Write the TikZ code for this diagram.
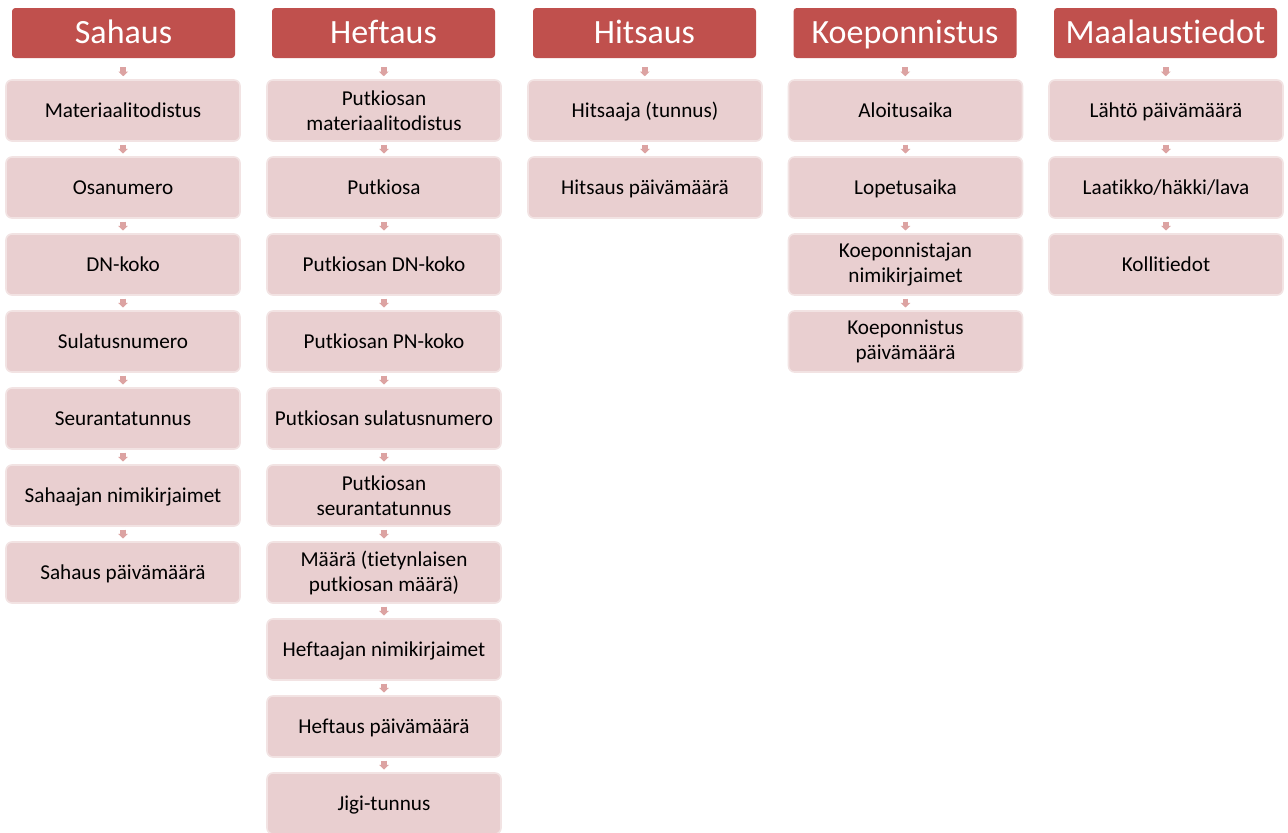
\documentclass[tikz,border=0pt]{standalone}
\usepackage{fontspec}
\setmainfont{Carlito}[Ligatures={NoCommon}]
\usetikzlibrary{arrows.meta,calc}
\definecolor{hdr}{HTML}{C0504D}
\definecolor{cell}{HTML}{E9CFD0}
\definecolor{cellline}{HTML}{F2E3E3}
\definecolor{arr}{HTML}{DCA3A2}
\tikzset{
  hdrbox/.style={fill=hdr, rounded corners=2.5pt, minimum width=167.25pt, minimum height=37.5pt,
    text=white, font=\fontsize{25.5}{30}\selectfont, inner sep=0pt, text height=19.5pt, text depth=3.1pt},
  cellboxtwo/.style={fill=cell, draw=cellline, line width=1.2pt, rounded corners=4.5pt,
    minimum width=175.5pt, minimum height=45.75pt, font=\fontsize{15.9}{18.8}\selectfont,
    align=center, inner sep=0pt},
  cellbox/.style={cellboxtwo, text height=12.3pt, text depth=2.06pt},
  conn/.style={draw=arr, line width=4.3pt, -{Triangle[width=7pt,length=3.4pt]}}
}
\newcommand\linkdown[2]{\draw[conn] ($(#1.south)!0.5!(#2.north)+(0,-4.5)$) -- ++(0,9);}
\newcommand\linkhead[2]{\draw[conn] ($(#1.south)!0.5!(#2.north)+(0,-1.5)$) -- ++(0,9);}
\begin{document}
\begin{tikzpicture}[x=0.75pt,y=-0.75pt]
\useasboundingbox (0,0) rectangle (1288,832);
% Column 1: Sahaus
\node[hdrbox] (sh) at (123.5,33) {Sahaus};
\node[cellbox] (s1) at (123,110.5) {Materiaalitodistus};
\node[cellbox] (s2) at (123,187.5) {Osanumero};
\node[cellbox] (s3) at (123,264.5) {DN-koko};
\node[cellbox] (s4) at (123,341.5) {Sulatusnumero};
\node[cellbox] (s5) at (123,418.5) {Seurantatunnus};
\node[cellbox] (s6) at (123,495.5) {Sahaajan nimikirjaimet};
\node[cellbox] (s7) at (123,572.5) {Sahaus päivämäärä};
\linkhead{sh}{s1}
\linkdown{s1}{s2}\linkdown{s2}{s3}\linkdown{s3}{s4}\linkdown{s4}{s5}\linkdown{s5}{s6}\linkdown{s6}{s7}
% Column 2: Heftaus
\node[hdrbox] (hh) at (383.5,33) {Heftaus};
\node[cellboxtwo] (h1) at (384,110.5) {Putkiosan\\materiaalitodistus};
\node[cellbox] (h2) at (384,187.5) {Putkiosa};
\node[cellbox] (h3) at (384,264.5) {Putkiosan DN-koko};
\node[cellbox] (h4) at (384,341.5) {Putkiosan PN-koko};
\node[cellbox] (h5) at (384,418.5) {Putkiosan sulatusnumero};
\node[cellboxtwo] (h6) at (384,495.5) {Putkiosan\\seurantatunnus};
\node[cellboxtwo] (h7) at (384,572.5) {Määrä (tietynlaisen\\putkiosan määrä)};
\node[cellbox] (h8) at (384,649.5) {Heftaajan nimikirjaimet};
\node[cellbox] (h9) at (384,726.5) {Heftaus päivämäärä};
\node[cellbox] (h10) at (384,803.5) {Jigi-tunnus};
\linkhead{hh}{h1}
\linkdown{h1}{h2}\linkdown{h2}{h3}\linkdown{h3}{h4}\linkdown{h4}{h5}\linkdown{h5}{h6}
\linkdown{h6}{h7}\linkdown{h7}{h8}\linkdown{h8}{h9}\linkdown{h9}{h10}
% Column 3: Hitsaus
\node[hdrbox] (th) at (644.5,33) {Hitsaus};
\node[cellbox] (t1) at (645,110.5) {Hitsaaja (tunnus)};
\node[cellbox] (t2) at (645,187.5) {Hitsaus päivämäärä};
\linkhead{th}{t1}
\linkdown{t1}{t2}
% Column 4: Koeponnistus
\node[hdrbox] (kh) at (905,33) {Koeponnistus};
\node[cellbox] (k1) at (905.5,110.5) {Aloitusaika};
\node[cellbox] (k2) at (905.5,187.5) {Lopetusaika};
\node[cellboxtwo] (k3) at (905.5,264.5) {Koeponnistajan\\nimikirjaimet};
\node[cellboxtwo] (k4) at (905.5,341.5) {Koeponnistus\\päivämäärä};
\linkhead{kh}{k1}
\linkdown{k1}{k2}\linkdown{k2}{k3}\linkdown{k3}{k4}
% Column 5: Maalaustiedot
\node[hdrbox] (mh) at (1165.5,33) {Maalaustiedot};
\node[cellbox] (m1) at (1166,110.5) {Lähtö päivämäärä};
\node[cellbox] (m2) at (1166,187.5) {Laatikko/häkki/lava};
\node[cellbox] (m3) at (1166,264.5) {Kollitiedot};
\linkhead{mh}{m1}
\linkdown{m1}{m2}\linkdown{m2}{m3}
\end{tikzpicture}
\end{document}
